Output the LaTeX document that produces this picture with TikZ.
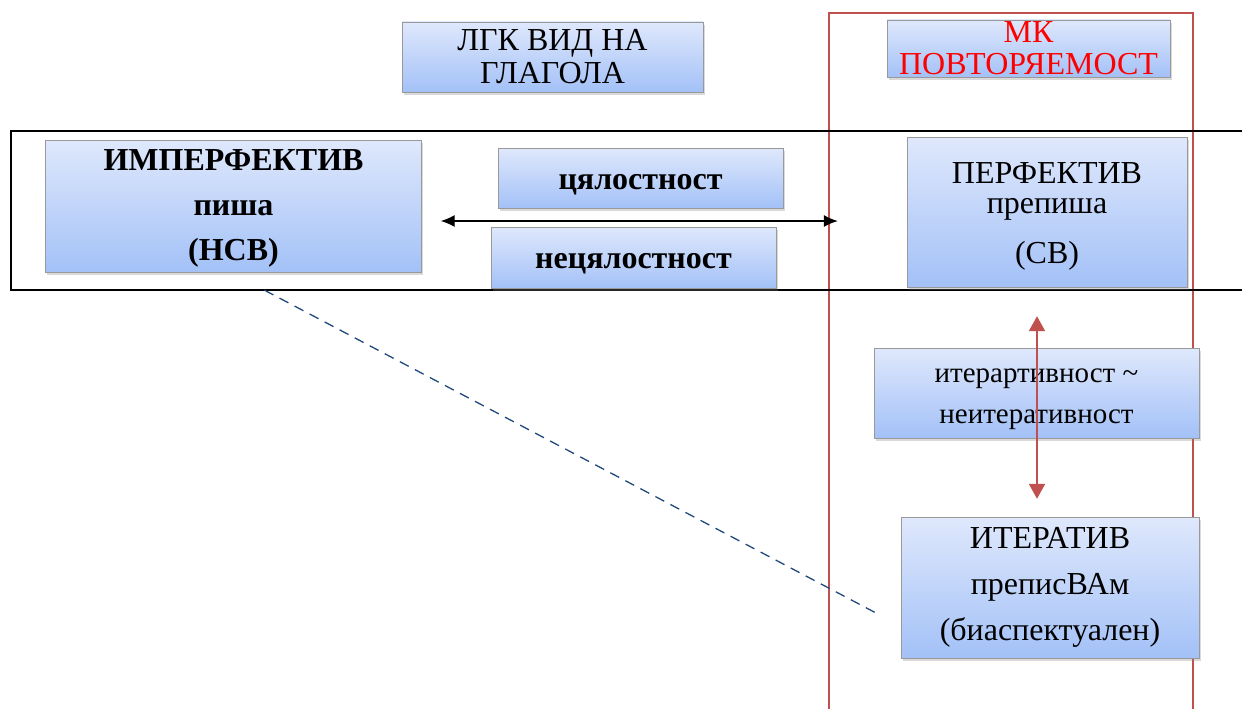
\documentclass[tikz,border=0pt]{standalone}
\usepackage{fontspec}
\setmainfont{Liberation Serif}
\usepackage{xcolor}
\usetikzlibrary{arrows.meta,shadows}
\definecolor{boxtop}{HTML}{DFE8FC}
\definecolor{boxbot}{HTML}{A3C1F7}
\definecolor{frred}{HTML}{C0504D}
\definecolor{dashblue}{HTML}{1F497D}
\newcommand{\fsz}[2]{\fontsize{#1}{#2}\selectfont}

\begin{document}
\begin{tikzpicture}[x=1pt, y=-1pt,
  box/.style={draw=black!40, top color=boxtop, bottom color=boxbot, align=center,
              inner sep=0pt, drop shadow={opacity=0.3, shadow xshift=1.5pt, shadow yshift=-3pt}},
  frame/.style={line width=1.3pt},
  arr/.style={{Latex[length=14pt,width=12pt]}-{Latex[length=14pt,width=12pt]}, line width=1.3pt},
  redarr/.style={{Triangle[length=15pt,width=16pt]}-{Triangle[length=15pt,width=16pt]}, line width=2pt, frred}
]
\useasboundingbox (0,0) rectangle (1242,709);
% frames
\draw[frame, frred] (829,760) -- (829,13) -- (1193,13) -- (1193,760);
\draw[frame] (1260,131) -- (11,131) -- (11,290) -- (1260,290);
% boxes
\node[box, minimum width=301pt, minimum height=70pt, font=\fsz{32}{33}] (lgk) at (552.5,57) {ЛГК ВИД НА\\ГЛАГОЛА};
\node[box, minimum width=283pt, minimum height=57pt, font=\fsz{32}{32}, text=red] (mk) at (1028.5,48.5) {МК\\ПОВТОРЯЕМОСТ};
\node[box, minimum width=376pt, minimum height=132pt, font=\bfseries\fsz{32}{45},
      text height=111pt, text depth=3pt] (imp) at (233.5,206) {ИМПЕРФЕКТИВ\\пиша\\(НСВ)};
\node[box, minimum width=285pt, minimum height=60pt, font=\bfseries\fsz{32}{32},
      text height=26pt, text depth=4pt] (cel) at (640.5,178) {цялостност};
\node[box, minimum width=285pt, minimum height=61pt, font=\bfseries\fsz{32}{32},
      text height=25pt, text depth=4pt] (necel) at (633.5,257.5) {нецялостност};
\node[box, minimum width=280pt, minimum height=150pt, font=\fsz{32}{30},
      text height=102pt, text depth=0pt] (perf) at (1047,212) {ПЕРФЕКТИВ\\препиша\\[20pt](СВ)};
\node[box, minimum width=325pt, minimum height=90pt, font=\fsz{29}{41},
      text height=61pt, text depth=1pt] (rep) at (1036.5,393) {итерартивност \textasciitilde\\неитеративност};
\node[box, minimum width=298pt, minimum height=141pt, font=\fsz{32}{46}] (itv) at (1050,587.5) {ИТЕРАТИВ\\преписВАм\\(биаспектуален)};
% connectors
\draw[arr] ([xshift=19pt,yshift=-15pt]imp.east) -- ([xshift=-69pt,yshift=-9pt]perf.west);
\draw[redarr] ([xshift=-10pt,yshift=-29pt]perf.south) -- ([xshift=-13pt,yshift=18pt]itv.north);
\draw[dashblue, line width=1.3pt, dash pattern=on 10pt off 7pt] ([xshift=31pt,yshift=-18pt]imp.south) -- ([xshift=-21pt,yshift=-27.5pt]itv.west);
\end{tikzpicture}
\end{document}
